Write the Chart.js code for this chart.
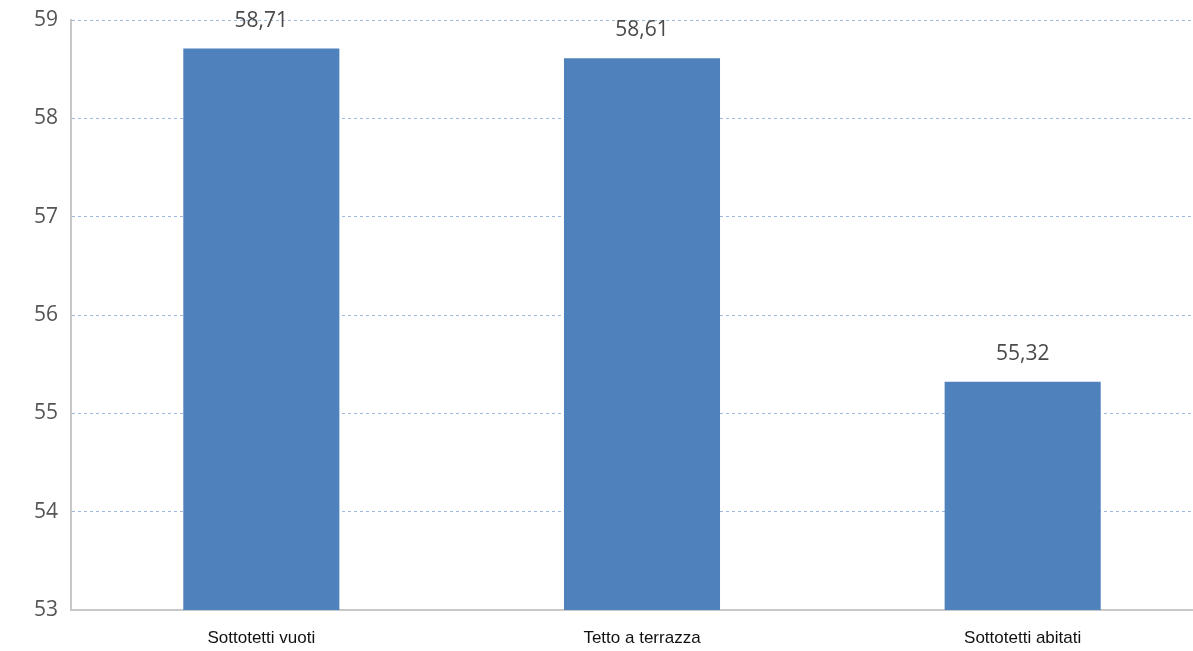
<!DOCTYPE html>
<html>
<head>
<meta charset="utf-8">
<script src="https://cdn.jsdelivr.net/npm/chart.js@4.4.1/dist/chart.umd.min.js"></script>
<style>
    html, body { margin: 0; padding: 0; background: #fff; overflow: hidden; }
    #wrap { position: relative; width: 1220px; height: 651px; }
</style>
</head>
<body>
<div id="wrap"><canvas id="barChart"></canvas></div>
<script>
const categories = ['Sottotetti vuoti', 'Tetto a terrazza', 'Sottotetti abitati'];
const values = [58.71, 58.61, 55.32];
const valueLabels = ['58,71', '58,61', '55,32'];
const yMin = 53;
const yMax = 59;

// draws the value above each bar
const barLabels = {
    id: 'barLabels',
    afterDatasetsDraw(chart) {
        const ctx = chart.ctx;
        const meta = chart.getDatasetMeta(0);
        ctx.save();
        ctx.font = '21px "Open Sans", sans-serif';
        ctx.fillStyle = '#4a4a4a';
        ctx.textAlign = 'center';
        ctx.textBaseline = 'middle';
        meta.data.forEach((bar, i) => {
            ctx.fillText(valueLabels[i], bar.x, bar.y - 28);
        });
        ctx.restore();
    },
};

const ctx = document.getElementById('barChart');
new Chart(ctx, {
    type: 'bar',
    data: {
        labels: categories,
        datasets: [{
            data: values,
            backgroundColor: '#4f81bd',
            borderWidth: 0,
            barPercentage: 0.41,
            categoryPercentage: 1,
        }],
    },
    options: {
        responsive: true,
        maintainAspectRatio: false,
        animation: false,
        layout: { padding: { top: 20, right: 7, left: 0, bottom: 0 } },
        plugins: { legend: { display: false }, tooltip: { enabled: false } },
        scales: {
            y: {
                min: yMin,
                max: yMax,
                afterFit: (scale) => { scale.width = 71; scale.paddingTop = 0; },
                ticks: {
                    stepSize: 1,
                    color: '#555555',
                    padding: 13,
                    font: { family: '"Open Sans", sans-serif', size: 21 },
                },
                grid: {
                    color: '#9fb9e0',
                    drawTicks: false,
                },
                border: { display: true, color: '#c8c8c8', width: 2, dash: [3, 3] },
            },
            x: {
                afterFit: (scale) => { scale.height = 41; },
                ticks: {
                    color: '#111111',
                    padding: 10,
                    font: { family: '"Liberation Sans", Arial, sans-serif', size: 17 },
                },
                grid: { display: false },
                border: { display: true, color: '#c8c8c8', width: 2 },
            },
        },
    },
    plugins: [barLabels],
});
</script>
</body>
</html>
